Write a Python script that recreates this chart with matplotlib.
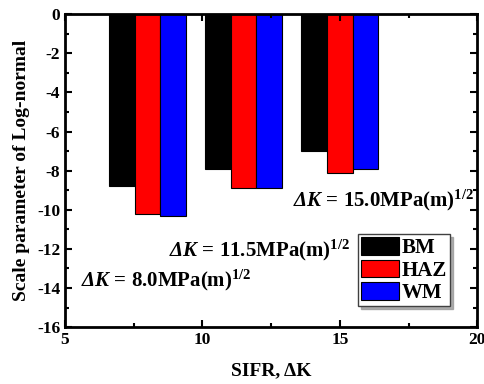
import matplotlib
matplotlib.use("Agg")
import matplotlib.pyplot as plt
from matplotlib.ticker import MultipleLocator

# Fuentes tipo Times en negrita, también para el mathtext
plt.rcParams['font.family'] = 'Liberation Serif'
plt.rcParams['font.weight'] = 'bold'
plt.rcParams['axes.unicode_minus'] = False
plt.rcParams['mathtext.fontset'] = 'custom'
plt.rcParams['mathtext.rm'] = 'Liberation Serif:bold'
plt.rcParams['mathtext.it'] = 'Liberation Serif:italic:bold'
plt.rcParams['mathtext.bf'] = 'Liberation Serif:bold'
plt.rcParams['mathtext.sf'] = 'Liberation Serif:italic:bold'  # ΔK en cursiva

# Datos: parámetro de escala por zona y nivel de ΔK
delta_k = [8.0, 11.5, 15.0]
bm = [-8.8, -7.9, -7.0]
haz = [-10.2, -8.9, -8.1]
wm = [-10.3, -8.9, -7.9]
series = ['BM', 'HAZ', 'WM']
colores = ['black', 'red', 'blue']
etiquetas = ['8.0', '11.5', '15.0']

fig = plt.figure(figsize=(4.85, 3.84), dpi=100)
ax = fig.add_axes([0.134, 0.148, 0.85, 0.815])

ancho = 0.93
for k, (vals, nombre, c) in enumerate(zip([bm, haz, wm], series, colores)):
    xs = [d + (k - 1) * ancho for d in delta_k]
    ax.bar(xs, vals, width=ancho, color=c, edgecolor='black', linewidth=0.8, label=nombre)

ax.set_xlim(5, 20)
ax.set_ylim(-16, 0)
ax.xaxis.set_major_locator(MultipleLocator(5))
ax.xaxis.set_minor_locator(MultipleLocator(2.5))
ax.yaxis.set_major_locator(MultipleLocator(2))
ax.yaxis.set_minor_locator(MultipleLocator(1))
ax.tick_params(which='both', direction='in', top=True, right=True, width=1.5, labelsize=12.5)
ax.tick_params(which='major', length=5)
ax.tick_params(which='minor', length=3)
for s in ax.spines.values():
    s.set_linewidth(2)

ax.set_xlabel('SIFR, ΔK', fontsize=14, fontweight='bold', labelpad=10)
ax.set_ylabel('Scale parameter of Log-normal', fontsize=14, fontweight='bold', labelpad=5)

# Etiquetas de cada nivel de ΔK
pos_texto = [(5.6, -13.6), (8.8, -12.05), (13.3, -9.5)]
for (tx, ty), et in zip(pos_texto, etiquetas):
    ax.text(tx, ty, r'$\mathsf{\Delta K}$ = ' + et + r'MPa(m)$^{1/2}$', fontsize=15, va='center')

leg = ax.legend(loc='lower right', bbox_to_anchor=(0.935, 0.067), fontsize=15, frameon=True,
                fancybox=False, shadow={'color': '0.6', 'alpha': 0.8}, edgecolor='0.25',
                handlelength=1.8, handleheight=0.9, handletextpad=0.15, labelspacing=0.08,
                borderpad=0.15, borderaxespad=0)
leg.get_frame().set_linewidth(1.0)

fig.savefig('out.png', dpi=100)
